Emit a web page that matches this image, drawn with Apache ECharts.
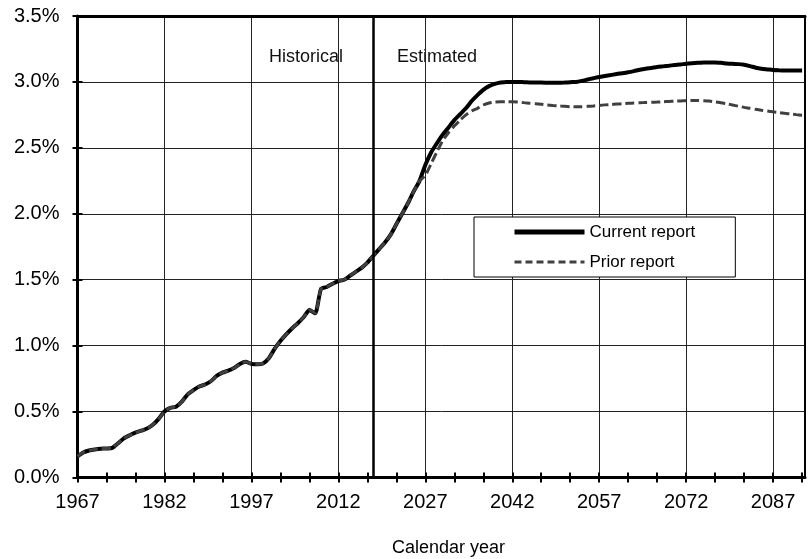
<!DOCTYPE html>
<html><head><meta charset="utf-8">
<script src="https://cdn.jsdelivr.net/npm/echarts@6/dist/echarts.min.js"></script>
<style>html,body{margin:0;padding:0;background:#fff}#c{width:810px;height:559px}</style>
</head><body><div id="c"></div>
<script>
// ---- data ----
const histYears = [1967,1968,1969,1970,1971,1972,1973,1974,1975,1976,1977,1978,1979,1980,1981,1982,1983,1984,1985,1986,
  1987,1988,1989,1990,1991,1992,1993,1994,1995,1996,1997,1998,1999,2000,2001,2002,2003,2004,2005,2006,
  2007,2008,2009,2010,2011,2012,2013,2014,2015,2016,2017,2018,2019,2020,2021,2022,2023,2024,2025,2026];
const histValues = [0.16,0.19,0.205,0.213,0.218,0.22,0.225,0.26,0.297,0.32,0.34,0.355,0.372,0.40,0.445,0.50,0.528,0.537,0.575,0.63,
  0.663,0.69,0.705,0.73,0.77,0.795,0.81,0.83,0.86,0.877,0.862,0.858,0.865,0.905,0.975,1.035,1.085,1.13,1.17,1.215,
  1.27,1.245,1.43,1.445,1.47,1.49,1.50,1.53,1.56,1.59,1.63,1.68,1.73,1.78,1.84,1.92,2.00,2.08,2.17,2.25];
const projYears = [2027,2028,2029,2030,2031,2032,2033,2034,2035,2036,2037,2038,2039,2040,2041,2042,2043,2044,2045,2046,
  2047,2048,2049,2050,2051,2052,2053,2054,2055,2056,2057,2058,2059,2060,2061,2062,2063,2064,2065,2066,
  2067,2068,2069,2070,2071,2072,2073,2074,2075,2076,2077,2078,2079,2080,2081,2082,2083,2084,2085,2086,
  2087,2088,2089,2090,2091,2092];
const currentValues = [2.37,2.465,2.535,2.60,2.655,2.71,2.755,2.80,2.855,2.90,2.94,2.968,2.985,2.995,3.0,3.0,3.0,2.998,2.996,2.995,
  2.995,2.994,2.993,2.993,2.995,2.998,3.0,3.008,3.018,3.028,3.038,3.045,3.052,3.06,3.066,3.073,3.082,3.092,3.1,3.106,
  3.113,3.118,3.123,3.128,3.132,3.138,3.142,3.145,3.147,3.148,3.147,3.145,3.14,3.137,3.135,3.13,3.12,3.108,3.1,3.095,
  3.09,3.088,3.087,3.086,3.086,3.086];
const priorValues = [2.29,2.38,2.47,2.555,2.615,2.665,2.71,2.75,2.78,2.80,2.825,2.84,2.848,2.85,2.85,2.85,2.847,2.843,2.839,2.835,
  2.83,2.825,2.821,2.818,2.815,2.812,2.811,2.812,2.815,2.818,2.822,2.826,2.829,2.832,2.835,2.838,2.84,2.842,2.844,2.845,
  2.847,2.85,2.852,2.854,2.856,2.858,2.86,2.86,2.858,2.855,2.849,2.842,2.834,2.825,2.816,2.807,2.8,2.792,2.785,2.779,
  2.773,2.768,2.762,2.757,2.752,2.748];
const labelYears = [1967,1982,1997,2012,2027,2042,2057,2072,2087];
const tickYears = [1967,1972,1977,1982,1987,1992,1997,2002,2007,2012,2017,2022,2027,2032,2037,2042,2047,2052,2057,2062,2067,2072,2077,2082,2087,2092];
const gridYears = [1982,1997,2012,2027,2042,2057,2072,2087];
const dividerYear = 2018;
const seriesNames = ['Current report','Prior report'];

const pairs = (ys, vs) => ys.map((y, i) => [y, vs[i]]);
const currentData = pairs(histYears, histValues).concat(pairs(projYears, currentValues));
const priorData = pairs(histYears, histValues).concat(pairs(projYears, priorValues));

const FONT = '"Liberation Sans", Arial, sans-serif';
const chart = echarts.init(document.getElementById('c'), null, {renderer: 'canvas'});
const xBase = {type: 'value', min: 1967, max: 2092.5, gridIndex: 0};
chart.setOption({
  animation: false,
  backgroundColor: '#fff',
  textStyle: {fontFamily: FONT},
  grid: {left: 77.5, right: 5, top: 16, bottom: 81.5, containLabel: false, outerBoundsMode: 'none'},
  xAxis: [
    Object.assign({}, xBase, {
      position: 'bottom',
      axisLine: {show: true, onZero: false, lineStyle: {color: '#000', width: 3}},
      axisTick: {show: true, inside: false, length: 5, customValues: tickYears, lineStyle: {color: '#000', width: 2}},
      axisLabel: {show: true, customValues: labelYears, margin: 15, color: '#000', fontSize: 20, fontFamily: FONT,
                  formatter: v => String(Math.round(v))},
      splitLine: {show: false}
    }),
    Object.assign({}, xBase, {
      position: 'bottom',
      axisLine: {show: false, onZero: false},
      axisTick: {show: true, inside: true, length: 5, customValues: tickYears, lineStyle: {color: '#000', width: 2}},
      axisLabel: {show: false},
      splitLine: {show: false}
    }),
    Object.assign({}, xBase, {
      position: 'top',
      axisLine: {show: true, onZero: false, lineStyle: {color: '#000', width: 3}},
      axisTick: {show: false, customValues: gridYears},
      axisLabel: {show: false},
      splitLine: {show: true, lineStyle: {color: '#222', width: 1}}
    })
  ],
  yAxis: [
    {
      type: 'value', min: 0, max: 3.5, interval: 0.5, position: 'left',
      axisLine: {show: true, onZero: false, lineStyle: {color: '#000', width: 3}},
      axisTick: {show: true, inside: false, length: 5, lineStyle: {color: '#000', width: 2}},
      axisLabel: {margin: 18, color: '#000', fontSize: 20, fontFamily: FONT, formatter: v => v.toFixed(1) + '%'},
      splitLine: {show: true, lineStyle: {color: '#222', width: 1}}
    },
    {
      type: 'value', min: 0, max: 3.5, interval: 0.5, position: 'left',
      axisLine: {show: false, onZero: false},
      axisTick: {show: true, inside: true, length: 5, lineStyle: {color: '#000', width: 2}},
      axisLabel: {show: false},
      splitLine: {show: false}
    },
    {
      type: 'value', min: 0, max: 3.5, interval: 0.5, position: 'right',
      axisLine: {show: true, onZero: false, lineStyle: {color: '#000', width: 2}},
      axisTick: {show: false},
      axisLabel: {show: false},
      splitLine: {show: false}
    }
  ],
  legend: {
    orient: 'vertical', left: 474, top: 217,
    padding: [5, 40, 5, 38],
    itemWidth: 70, itemHeight: 14, itemGap: 10,
    backgroundColor: '#fff', borderColor: '#000', borderWidth: 1,
    itemStyle: {opacity: 0, borderWidth: 0},
    textStyle: {color: '#000', fontSize: 17, lineHeight: 20, fontFamily: FONT},
    data: [
      {name: seriesNames[0], lineStyle: {width: 5, color: '#000'}},
      {name: seriesNames[1], lineStyle: {width: 3, color: '#404040', type: [7, 4]}}
    ]
  },
  series: [
    {
      name: seriesNames[0], type: 'line', xAxisIndex: 0, yAxisIndex: 0,
      data: currentData, symbol: 'none', showSymbol: false, smooth: 0.2,
      lineStyle: {color: '#000', width: 4},
      itemStyle: {color: '#000'},
      markLine: {
        silent: true, symbol: 'none', label: {show: false},
        lineStyle: {color: '#000', width: 2.5, type: 'solid'},
        data: [{xAxis: dividerYear}]
      },
      z: 3
    },
    {
      name: seriesNames[1], type: 'line', xAxisIndex: 0, yAxisIndex: 0,
      data: priorData, symbol: 'none', showSymbol: false, smooth: 0.2,
      lineStyle: {color: '#404040', width: 3, type: [9, 4]},
      itemStyle: {color: '#404040'},
      z: 4
    }
  ],
  graphic: [
    {type: 'text', left: 269, top: 48, silent: true,
     style: {text: 'Historical', fill: '#111', font: '18px ' + FONT}},
    {type: 'text', left: 397, top: 48, silent: true,
     style: {text: 'Estimated', fill: '#111', font: '18px ' + FONT}},
    {type: 'text', left: 392, top: 539, silent: true,
     style: {text: 'Calendar year', fill: '#000', font: '18px ' + FONT}}
  ]
});
</script>
</body></html>
